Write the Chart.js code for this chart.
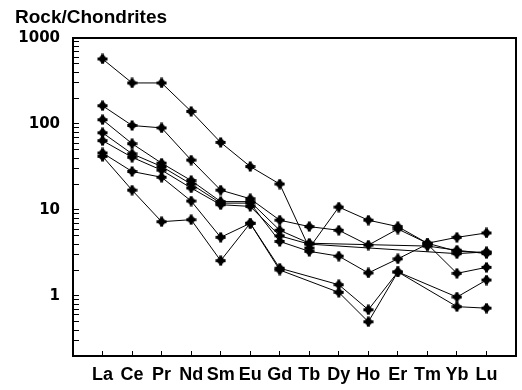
<!DOCTYPE html>
<html>
<head>
<meta charset="utf-8">
<script src="https://cdn.jsdelivr.net/npm/chart.js@4"></script>
<style>
  html, body { margin: 0; padding: 0; background: #fff; }
  #wrap { width: 522px; height: 390px; }
</style>
</head>
<body>
<div id="wrap"><canvas id="c" width="522" height="390"></canvas></div>
<script>
// Rare earth elements, chondrite-normalised
const elements = ['La', 'Ce', 'Pr', 'Nd', 'Sm', 'Eu', 'Gd', 'Tb', 'Dy', 'Ho', 'Er', 'Tm', 'Yb', 'Lu'];

// Sample patterns (null = not analysed)
const sampleA = [570, 300, 300, 140, 61, 32, 20, 3.6, 10.8, 7.6, 6.4, 4.1, 4.8, 5.4];
const sampleB = [163, 96, 90, 38, 17, 13.5, 7.6, 6.4, 5.8, 3.9, 6.0, 4.1, 3.3, 3.2];
const sampleC = [112, 59, 35, 22, 12.5, 12.5, 5.8, 4.1, null, null, null, 3.8, 3.4, 3.1];
const sampleD = [79, 45, 32, 20, 12, 12, 4.3, 3.3, 2.9, 1.85, 2.7, 4.0, 1.83, 2.15];
const sampleE = [64, 41, 29, 18, 11.5, 11, 5.0, 4.0, null, null, null, null, 3.1, 3.25];
const sampleF = [46, 28, 24, 12.7, 4.8, 7.0, 2.1, null, 1.35, 0.69, 1.9, null, 0.97, 1.53];
const sampleG = [42, 17, 7.3, 7.7, 2.57, 7.0, 2.0, null, 1.1, 0.5, 1.9, null, 0.75, 0.72];

const samples = [sampleA, sampleB, sampleC, sampleD, sampleE, sampleF, sampleG];

// y-axis tick values (log decades with minor ticks) and the labelled ones
const yTickValues = [0.2, 0.3, 0.4, 0.5, 0.6, 0.7, 0.8, 0.9,
  1, 2, 3, 4, 5, 6, 7, 8, 9,
  10, 20, 30, 40, 50, 60, 70, 80, 90,
  100, 200, 300, 400, 500, 600, 700, 800, 900, 1000];
const yLabelled = [1, 10, 100, 1000];

// filled cross-shaped marker
function makeMarker() {
  const s = 11;
  const cv = document.createElement('canvas');
  cv.width = s; cv.height = s;
  const g = cv.getContext('2d');
  const c = s / 2;
  g.fillStyle = '#000';
  g.beginPath();
  g.arc(c, c, 3.4, 0, Math.PI * 2);
  g.fill();
  g.fillRect(0.5, c - 1.5, s - 1, 3);
  g.fillRect(c - 1.5, 0.5, 3, s - 1);
  return cv;
}
const marker = makeMarker();

const datasets = samples.map(arr => ({
  data: arr.map((v, i) => ({ x: i, y: v })),
  borderColor: '#000',
  borderWidth: 1,
  pointStyle: marker,
  pointRadius: 5,
  pointHoverRadius: 5,
  spanGaps: true,
  tension: 0,
  fill: false
}));

const frame = {
  id: 'frame',
  afterDraw(chart) {
    const { ctx, chartArea: a } = chart;
    ctx.save();
    ctx.strokeStyle = '#000';
    ctx.lineWidth = 2;
    ctx.beginPath();
    ctx.moveTo(a.left, a.top);
    ctx.lineTo(a.right, a.top);
    ctx.lineTo(a.right, a.bottom);
    ctx.stroke();
    ctx.fillStyle = '#000';
    ctx.font = 'bold 19px "Liberation Sans"';
    ctx.textBaseline = 'middle';
    ctx.textAlign = 'left';
    ctx.fillText('Rock/Chondrites', 15, 18);
    ctx.restore();
  }
};

new Chart(document.getElementById('c'), {
  type: 'line',
  data: { datasets },
  plugins: [frame],
  options: {
    responsive: false,
    animation: false,
    devicePixelRatio: 1,
    layout: { padding: { left: 15, top: 38, right: 5, bottom: 0 } },
    plugins: { legend: { display: false }, tooltip: { enabled: false }, title: { display: false } },
    scales: {
      x: {
        type: 'linear',
        min: -1,
        max: 14,
        afterBuildTicks(scale) { scale.ticks = elements.map((_, i) => ({ value: i })); },
        afterFit(scale) { scale.height = 34; },
        ticks: {
          autoSkip: false,
          maxRotation: 0,
          padding: 13,
          color: '#000',
          font: { family: 'Liberation Sans', size: 18, weight: 'bold' },
          callback: v => elements[v] ?? ''
        },
        grid: { drawOnChartArea: false, tickLength: -5, color: '#000', lineWidth: 1 },
        border: { display: true, color: '#000', width: 2 }
      },
      y: {
        type: 'logarithmic',
        min: 0.2,
        max: 1000,
        afterBuildTicks(scale) { scale.ticks = yTickValues.map(v => ({ value: v })); },
        afterFit(scale) { scale.width = 58; },
        ticks: {
          autoSkip: false,
          padding: 19,
          color: '#000',
          font: { family: 'DejaVu Sans', size: 15, weight: 'bold' },
          callback: v => yLabelled.includes(v) ? String(v) : ''
        },
        grid: { drawOnChartArea: false, tickLength: -6, color: '#000', lineWidth: 1 },
        border: { display: true, color: '#000', width: 2 }
      }
    }
  }
});
</script>
</body>
</html>
